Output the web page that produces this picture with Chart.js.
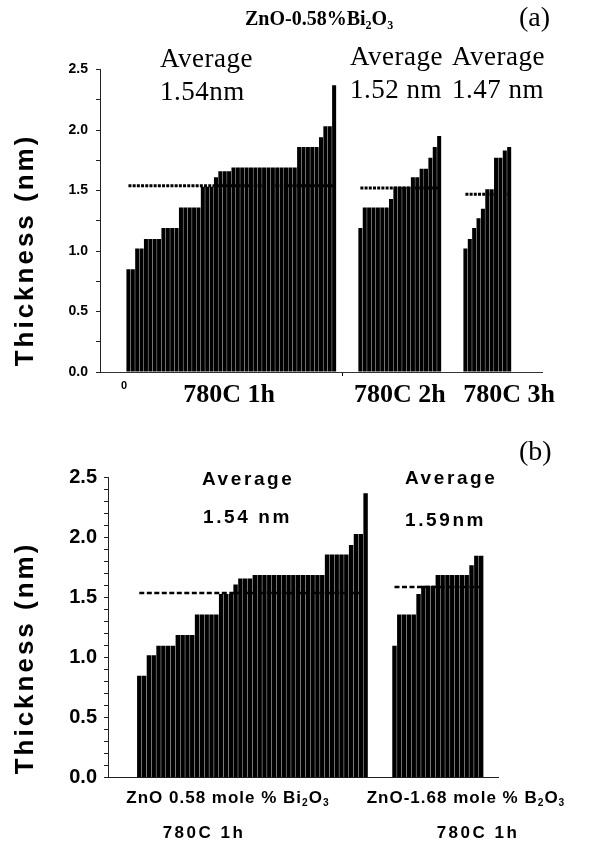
<!DOCTYPE html>
<html>
<head>
<meta charset="utf-8">
<script src="https://cdn.jsdelivr.net/npm/chart.js@4.4.1/dist/chart.umd.min.js"></script>
<style>
  body { margin: 0; background: #fff; }
  #wrap { position: relative; width: 594px; height: 848px; overflow: hidden; }
  canvas { position: absolute; left: 0; }
  .txt { position: absolute; white-space: nowrap; color: #000; line-height: 1; }
  .serif { font-family: "Liberation Serif", "Times New Roman", serif; }
  .sans { font-family: "Liberation Sans", Arial, sans-serif; font-weight: bold; }
  .ytitle { font-size: 26px; letter-spacing: 3px; transform: translate(-50%, -50%) rotate(-90deg); }
  .center { transform: translateX(-50%); }
  sub { font-size: 60%; vertical-align: -0.3em; line-height: 0; }
</style>
</head>
<body>
<div id="wrap">
  <canvas id="chartA" width="594" height="430" style="top:0"></canvas>
  <canvas id="chartB" width="594" height="418" style="top:430px"></canvas>

  <!-- panel (a) texts -->
  <div class="txt serif" style="left:245px; top:8px; font-size:20px; font-weight:bold;">ZnO-0.58%Bi<sub>2</sub>O<sub>3</sub></div>
  <div class="txt serif" style="left:519px; top:3px; font-size:28px;">(a)</div>
  <div class="txt serif" style="left:160px; top:45px; font-size:27px; letter-spacing:0.5px;">Average</div>
  <div class="txt serif" style="left:160px; top:78px; font-size:27px; letter-spacing:0.5px;">1.54nm</div>
  <div class="txt serif" style="left:350px; top:43px; font-size:27px; letter-spacing:0.5px;">Average</div>
  <div class="txt serif" style="left:350px; top:76px; font-size:27px; letter-spacing:0.5px;">1.52 nm</div>
  <div class="txt serif" style="left:452px; top:43px; font-size:27px; letter-spacing:0.5px;">Average</div>
  <div class="txt serif" style="left:452px; top:76px; font-size:27px; letter-spacing:0.5px;">1.47 nm</div>
  <div class="txt sans ytitle" style="left:24px; top:250px;">Thickness (nm)</div>

  <!-- panel (b) texts -->
  <div class="txt serif" style="left:519px; top:437px; font-size:28px;">(b)</div>
  <div class="txt sans" style="left:202px; top:469px; font-size:19px; letter-spacing:2.6px;">Average</div>
  <div class="txt sans" style="left:203px; top:507px; font-size:19px; letter-spacing:2.6px;">1.54 nm</div>
  <div class="txt sans" style="left:405px; top:468px; font-size:19px; letter-spacing:2.6px;">Average</div>
  <div class="txt sans" style="left:405px; top:510px; font-size:19px; letter-spacing:2.6px;">1.59nm</div>
  <div class="txt sans ytitle" style="left:24px; top:658px;">Thickness (nm)</div>
  <div class="txt sans center" style="left:228px; top:789px; font-size:17px; letter-spacing:1px;">ZnO 0.58 mole % Bi<sub>2</sub>O<sub>3</sub></div>
  <div class="txt sans center" style="left:204px; top:824px; font-size:17px; letter-spacing:2.5px;">780C 1h</div>
  <div class="txt sans center" style="left:466px; top:789px; font-size:17px; letter-spacing:1px;">ZnO-1.68 mole % B<sub>2</sub>O<sub>3</sub></div>
  <div class="txt sans center" style="left:478px; top:824px; font-size:17px; letter-spacing:2.5px;">780C 1h</div>
</div>

<script>
// grain boundary film thickness (nm), each bar one boundary, sorted
const bi780_1h = [0.85, 0.85, 1.02, 1.02, 1.10, 1.10, 1.10, 1.10, 1.19, 1.19, 1.19, 1.19,
    1.36, 1.36, 1.36, 1.36, 1.36, 1.53, 1.53, 1.53, 1.61, 1.66, 1.66, 1.66,
    1.69, 1.69, 1.69, 1.69, 1.69, 1.69, 1.69, 1.69, 1.69, 1.69, 1.69, 1.69, 1.69, 1.69, 1.69,
    1.86, 1.86, 1.86, 1.86, 1.86, 1.94, 2.03, 2.03, 2.37];
const bi780_2h = [1.19, 1.36, 1.36, 1.36, 1.36, 1.36, 1.36, 1.43, 1.53, 1.53, 1.53, 1.53,
    1.61, 1.61, 1.68, 1.68, 1.77, 1.86, 1.95];
const bi780_3h = [1.02, 1.10, 1.19, 1.27, 1.35, 1.51, 1.51, 1.77, 1.77, 1.83, 1.86];
const b2o3_780_1h = [1.10, 1.36, 1.36, 1.36, 1.36, 1.53, 1.60, 1.60, 1.60,
    1.69, 1.69, 1.69, 1.69, 1.69, 1.69, 1.69, 1.77, 1.85, 1.85];

// averages drawn as dotted lines
const mediasA = [1.54, 1.52, 1.47];
const mediasB = [1.54, 1.59];

// axis labels
const gruposA = ["780C 1h", "780C 2h", "780C 3h"];
const origenX = "0";
const ticksY = [0.0, 0.5, 1.0, 1.5, 2.0, 2.5];

// lay groups out on a category axis with empty slots between them
function armarSlots(grupos, medias, inicio, hueco, fin) {
    const barras = [];
    const lineas = grupos.map(() => []);
    const vacio = (n) => {
        for (let i = 0; i < n; i++) {
            barras.push(null);
            lineas.forEach(l => l.push(null));
        }
    };
    vacio(inicio);
    grupos.forEach((g, gi) => {
        if (gi > 0) vacio(hueco);
        g.forEach(v => {
            barras.push(v);
            lineas.forEach((l, li) => l.push(li === gi ? medias[gi] : null));
        });
    });
    vacio(fin);
    return { barras, lineas };
}

function etiquetaY(v) {
    return ticksY.some(t => Math.abs(t - v) < 1e-6) ? v.toFixed(1) : "";
}

function crearGrafico(id, slots, etiquetas, cfg) {
    const datasets = [{
        type: "bar",
        data: slots.barras,
        backgroundColor: "#000",
        barPercentage: 0.92,
        categoryPercentage: 1,
        order: 2,
    }];
    slots.lineas.forEach(l => datasets.push({
        type: "line",
        data: l,
        borderColor: "#000",
        borderWidth: cfg.lineaAncho,
        borderDash: cfg.guiones,
        pointRadius: 0,
        spanGaps: false,
        fill: false,
        order: 1,
    }));

    return new Chart(document.getElementById(id), {
        type: "bar",
        data: { labels: etiquetas, datasets: datasets },
        options: {
            responsive: false,
            animation: false,
            devicePixelRatio: 1,
            layout: { padding: cfg.padding },
            plugins: { legend: { display: false }, tooltip: { enabled: false } },
            scales: {
                x: cfg.ejeX,
                y: {
                    min: 0,
                    max: 2.5,
                    afterFit: (s) => { s.width = cfg.anchoY; },
                    border: { color: "#222", width: 1 },
                    grid: { drawOnChartArea: false, tickLength: 4, tickColor: "#222" },
                    ticks: {
                        stepSize: cfg.pasoY,
                        autoSkip: false,
                        padding: cfg.padY,
                        color: "#000",
                        font: { family: "Arial", size: cfg.fuenteY, weight: "bold" },
                        callback: etiquetaY,
                    },
                },
            },
        },
    });
}

// panel (a)
const slotsA = armarSlots([bi780_1h, bi780_2h, bi780_3h], mediasA, 6, 5, 7);
const etiquetasA = slotsA.barras.map(() => "");
etiquetasA[5] = origenX;
etiquetasA[29] = gruposA[0];
etiquetasA[68] = gruposA[1];
etiquetasA[93] = gruposA[2];

crearGrafico("chartA", slotsA, etiquetasA, {
    padding: { top: 69.5, right: 52, left: 0, bottom: 0 },
    anchoY: 100,
    pasoY: 0.25,
    padY: 8,
    fuenteY: 14,
    lineaAncho: 3,
    guiones: [3, 1.2],
    ejeX: {
        afterFit: (s) => { s.height = 58; },
        border: { color: "#333", width: 1 },
        grid: {
            drawOnChartArea: false,
            offset: false,
            tickLength: 4,
            tickColor: (c) => (c.index === 55 ? "#000" : "rgba(0,0,0,0)"),
        },
        ticks: {
            autoSkip: false,
            maxRotation: 0,
            minRotation: 0,
            padding: 3.4,
            color: "#000",
            font: (c) => (c.index === 5
                ? { family: "Arial", size: 11, weight: "bold" }
                : { family: "'Liberation Serif', 'Times New Roman', serif", size: 26, weight: "bold" }),
        },
    },
});

// panel (b)
const slotsB = armarSlots([bi780_1h, b2o3_780_1h], mediasB, 6, 5, 3);
const etiquetasB = slotsB.barras.map(() => "");

crearGrafico("chartB", slotsB, etiquetasB, {
    padding: { top: 47.7, right: 96, left: 0, bottom: 0 },
    anchoY: 108,
    pasoY: 0.1,
    padY: 7,
    fuenteY: 20,
    lineaAncho: 2.5,
    guiones: [5, 2.5],
    ejeX: {
        afterFit: (s) => { s.height = 70.3; },
        border: { color: "#222", width: 1 },
        grid: { display: false },
        ticks: { display: false },
    },
});
</script>
</body>
</html>
